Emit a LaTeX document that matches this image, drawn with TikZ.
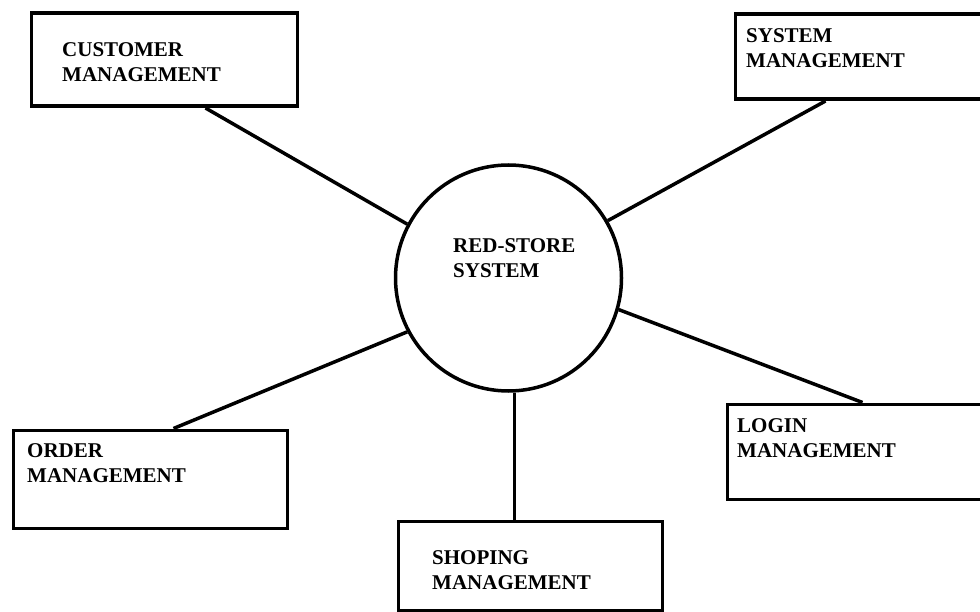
\documentclass[tikz,border=0pt]{standalone}
\usepackage{fontspec}
\setmainfont{Liberation Serif}
\usetikzlibrary{calc}
\begin{document}
\begin{tikzpicture}[x=1pt,y=-1pt,
  box/.style={draw=black,line width=3.5pt,rectangle,inner sep=0pt,anchor=north west},
  hub/.style={draw=black,line width=3.5pt,circle,inner sep=0pt,minimum size=226pt},
  label/.style={anchor=base west,inner sep=0pt,align=left,
    font=\bfseries\fontsize{21}{25}\selectfont},
  link/.style={draw=black,line width=3.5pt}]
  \fill[white] (0,0) rectangle (980,612);
  \clip (0,0) rectangle (980,612);

  % central system (labels are placed by the baseline of their last line)
  \node[hub] (c) at (508.5,278) {};
  \node[label] (ctext) at (453,278) {RED-STORE\\SYSTEM};

  % surrounding modules
  \node[box,minimum width=266pt,minimum height=93pt] (cust) at (29.5,11.5) {};
  \node[label] (custtext) at (62,82) {CUSTOMER\\MANAGEMENT};

  \node[box,minimum width=280pt,minimum height=85pt] (sys) at (733.5,12.5) {};
  \node[label] (systext) at (746,68) {SYSTEM\\MANAGEMENT};

  \node[box,minimum width=274pt,minimum height=98pt] (order) at (11.5,428.5) {};
  \node[label] (ordertext) at (27,482) {ORDER\\MANAGEMENT};

  \node[box,minimum width=264pt,minimum height=89pt] (shop) at (396.5,519.5) {};
  \node[label] (shoptext) at (432,589) {SHOPING\\MANAGEMENT};

  \node[box,minimum width=280pt,minimum height=95pt] (login) at (725.5,402.5) {};
  \node[label] (logintext) at (737,457) {LOGIN\\MANAGEMENT};

  % connectors
  \draw[link] (c.152) -- ($(cust.south west)+(176,0)$);
  \draw[link] (c.30) -- ($(sys.south west)+(92,0)$);
  \draw[link] (c.208) -- ($(order.north west)+(162,0)$);
  \draw[link] (c.-16) -- ($(login.north west)+(137,0)$);
  \draw[link] (c.-87.5) -- (c.-87.5 |- shop.north);
\end{tikzpicture}
\end{document}
